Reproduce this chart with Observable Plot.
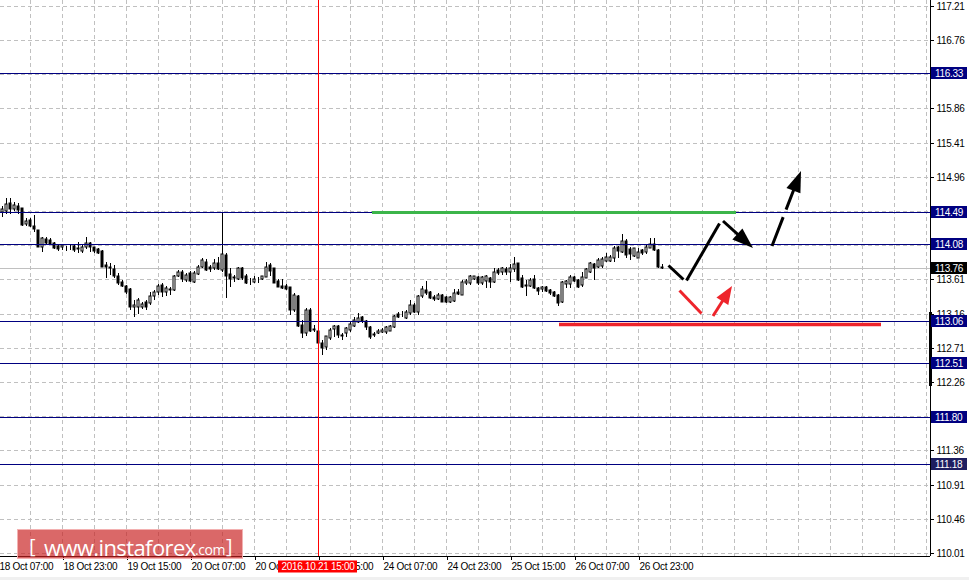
<!DOCTYPE html>
<html>
<head>
<meta charset="utf-8">
<script src="https://cdn.jsdelivr.net/npm/d3@7"></script>
<script src="https://cdn.jsdelivr.net/npm/@observablehq/plot@0.6"></script>
<style>
html, body { margin: 0; padding: 0; background: #f0f0f0; }
#wrap { position: relative; width: 969px; height: 580px; overflow: hidden; }
#chart svg { display: block; background: #fff; }
#chart svg text { letter-spacing: -0.3px; }
#logo { position: absolute; left: 17px; top: 529px; width: 226px; height: 30px;
  background: rgba(200, 32, 32, 0.68); border: 1px solid rgba(245, 185, 185, 0.9); box-sizing: border-box; }
#logo span { position: absolute; color: #fff; font-family: "Open Sans", sans-serif; white-space: pre; }
</style>
</head>
<body>
<div id="wrap">
  <div id="chart"></div>
  <div id="logo">
    <span style="left:11px;top:6px;font-size:20px;line-height:20px;">[</span>
    <span style="left:26px;top:6px;font-size:22px;line-height:22px;letter-spacing:-0.6px;">www.instaforex</span>
    <span style="left:177px;top:13px;font-size:14px;line-height:14px;letter-spacing:-0.4px;">.com</span>
    <span style="left:208px;top:6px;font-size:20px;line-height:20px;">]</span>
  </div>
</div>
<script>
// ---- USDJPY H1 candles, bar 0 = 18 Oct 08:00 ----
const open = [114.496,114.510,114.615,114.536,114.575,114.549,114.339,114.391,114.312,114.260,
114.036,114.141,114.128,114.089,114.049,114.036,114.036,114.036,114.049,114.023,
113.983,114.036,114.089,114.036,114.010,113.983,113.799,113.773,113.746,113.654,
113.575,113.523,113.483,113.246,113.246,113.246,113.312,113.299,113.391,113.444,
113.536,113.444,113.483,113.470,113.654,113.707,113.602,113.694,113.575,113.681,
113.773,113.839,113.773,113.760,113.825,113.733,113.931,113.681,113.641,113.615,
113.760,113.654,113.575,113.575,113.602,113.615,113.641,113.799,113.760,113.588,
113.523,113.523,113.510,113.207,113.391,113.010,112.904,113.207,112.957,112.931,
112.773,112.720,112.839,112.957,112.996,112.878,112.904,112.944,112.996,113.049,
113.115,113.062,112.983,112.891,112.904,112.917,112.917,112.930,112.983,113.154,
113.141,113.102,113.167,113.273,113.181,113.391,113.470,113.444,113.378,113.352,
113.404,113.378,113.312,113.326,113.444,113.404,113.562,113.562,113.615,113.641,
113.562,113.588,113.628,113.575,113.733,113.707,113.746,113.707,113.746,113.825,
113.628,113.536,113.523,113.615,113.496,113.483,113.510,113.470,113.444,113.404,
113.312,113.549,113.549,113.641,113.602,113.536,113.628,113.707,113.812,113.773,
113.786,113.852,113.852,113.891,114.036,113.970,114.115,114.010,113.918,113.891,
113.997,113.970,114.023,114.075,113.997,113.773];
const high = [114.575,114.681,114.681,114.628,114.615,114.549,114.418,114.418,114.457,114.260,
114.168,114.168,114.154,114.102,114.075,114.075,114.049,114.062,114.075,114.102,
114.062,114.168,114.102,114.036,114.023,113.997,113.839,113.825,113.799,113.694,
113.602,113.536,113.496,113.339,113.365,113.312,113.339,113.444,113.470,113.549,
113.562,113.523,113.510,113.667,113.733,113.733,113.694,113.720,113.720,113.799,
113.891,113.878,113.799,113.878,113.904,114.496,113.957,113.760,113.667,113.773,
113.773,113.681,113.628,113.654,113.641,113.654,113.839,113.825,113.760,113.615,
113.615,113.549,113.510,113.431,113.404,113.075,113.233,113.233,113.010,112.944,
112.812,112.865,112.970,113.010,113.010,112.904,112.983,113.049,113.115,113.167,
113.128,113.075,112.996,112.917,112.957,112.970,112.996,113.010,113.141,113.181,
113.194,113.207,113.339,113.299,113.404,113.523,113.588,113.457,113.404,113.431,
113.418,113.391,113.391,113.483,113.483,113.602,113.615,113.667,113.654,113.654,
113.654,113.667,113.641,113.760,113.760,113.773,113.773,113.812,113.904,113.825,
113.667,113.602,113.628,113.667,113.510,113.523,113.523,113.483,113.457,113.418,
113.588,113.602,113.667,113.654,113.615,113.707,113.760,113.839,113.825,113.891,
113.904,113.957,113.931,114.049,114.049,114.207,114.141,114.036,114.023,114.023,
114.010,114.062,114.154,114.154,114.010,113.812];
const low = [114.431,114.470,114.470,114.510,114.470,114.312,114.312,114.299,114.233,114.036,
113.970,114.062,114.062,114.010,113.983,113.997,113.983,113.997,113.970,113.957,
113.957,114.010,113.970,113.957,113.944,113.773,113.628,113.667,113.628,113.536,
113.510,113.418,113.207,113.115,113.154,113.220,113.207,113.273,113.339,113.404,
113.378,113.391,113.404,113.457,113.641,113.575,113.575,113.575,113.562,113.667,
113.760,113.720,113.707,113.733,113.733,113.707,113.365,113.510,113.575,113.602,
113.602,113.549,113.536,113.562,113.562,113.602,113.641,113.654,113.562,113.510,
113.483,113.470,113.141,113.181,112.983,112.839,112.865,112.917,112.917,112.746,
112.615,112.681,112.812,112.852,112.839,112.812,112.852,112.917,112.983,113.036,
113.036,112.944,112.825,112.852,112.891,112.904,112.891,112.944,112.970,113.102,
113.115,113.089,113.141,113.167,113.141,113.365,113.404,113.352,113.326,113.339,
113.312,113.299,113.299,113.312,113.404,113.404,113.536,113.536,113.602,113.536,
113.536,113.496,113.496,113.562,113.667,113.667,113.667,113.575,113.707,113.588,
113.496,113.391,113.510,113.483,113.404,113.444,113.444,113.404,113.378,113.260,
113.299,113.496,113.496,113.575,113.496,113.510,113.628,113.694,113.602,113.760,
113.760,113.839,113.839,113.839,113.891,113.957,113.891,113.865,113.904,113.891,
113.931,113.944,114.023,113.983,113.760,113.746];
const close = [114.536,114.602,114.536,114.589,114.523,114.326,114.378,114.312,114.273,114.036,
114.154,114.089,114.075,114.023,114.010,114.062,114.030,114.030,113.997,114.010,
114.036,114.089,114.036,113.983,113.957,113.773,113.773,113.760,113.654,113.562,
113.523,113.444,113.246,113.273,113.339,113.286,113.246,113.391,113.444,113.523,
113.444,113.496,113.476,113.654,113.707,113.615,113.667,113.588,113.694,113.773,
113.865,113.733,113.746,113.825,113.746,113.944,113.654,113.615,113.634,113.760,
113.628,113.562,113.569,113.615,113.596,113.654,113.773,113.720,113.562,113.510,
113.496,113.483,113.207,113.404,112.996,112.904,113.207,112.931,112.950,112.773,
112.707,112.865,112.944,112.996,112.878,112.871,112.970,113.023,113.075,113.102,
113.062,112.983,112.852,112.884,112.931,112.944,112.983,112.990,113.128,113.115,
113.135,113.181,113.273,113.181,113.391,113.483,113.431,113.365,113.352,113.404,
113.312,113.312,113.378,113.431,113.418,113.575,113.588,113.654,113.654,113.562,
113.641,113.654,113.575,113.707,113.694,113.760,113.707,113.760,113.812,113.602,
113.510,113.529,113.602,113.496,113.457,113.510,113.457,113.431,113.391,113.299,
113.575,113.588,113.641,113.588,113.510,113.641,113.746,113.825,113.760,113.865,
113.878,113.904,113.904,114.023,113.983,114.115,113.931,113.944,114.023,113.970,
113.957,114.036,114.075,113.997,113.773,113.760];

// ---- axes ----
const priceTicks = [117.21,116.76,116.31,115.86,115.41,114.96,114.51,114.06,113.61,113.16,112.71,112.26,111.81,111.36,110.91,110.46,110.01];
const hiddenPriceTicks = [116.31, 114.51, 114.06, 111.81]; // fully covered by level boxes
const timeTickBars = [-1,15,31,47,63,79,95,111,127,143,159];
const timeTickLabels = ["18 Oct 07:00","18 Oct 23:00","19 Oct 15:00","20 Oct 07:00","20 Oct 23:00","21 Oct 15:00","24 Oct 07:00","24 Oct 23:00","25 Oct 15:00","26 Oct 07:00","26 Oct 23:00"];
const gridBars = [7,15,23,31,39,47,55,63,71,79,87,95,103,111,119,127,135,143,151,159,167,175,183,191,199,207,215,223,231];

// ---- horizontal levels ----
const levels = [116.33, 114.49, 114.08, 113.06, 112.51, 111.80, 111.18];
const bidPrice = 113.76;
const markerBar = 79;
const markerLabel = "2016.10.21 15:00";
const rangeBar = {x: 232, y1: 113.18, y2: 112.21};

// ---- analyst annotations (bar index, price) ----
const greenLine = [{x1: 92.5, x2: 183.5, y: 114.49}];
const redLine = [{x1: 139.25, x2: 219.75, y: 113.02}];
const blackSegments = [
  {x1: 166.5, y1: 113.80, x2: 170.25, y2: 113.615},
  {x1: 171.0, y1: 113.602, x2: 179.25, y2: 114.352}
];
const blackArrows = [{x1: 180.25, y1: 114.378, x2: 187.75, y2: 114.023}];
const blackDashedArrows = [{x1: 192.5, y1: 114.049, x2: 199.75, y2: 115.036}];
const redSegments = [{x1: 169.25, y1: 113.470, x2: 174.75, y2: 113.167}];
const redArrows = [{x1: 177.75, y1: 113.128, x2: 182.5, y2: 113.523}];

const candles = open.map((o, i) => ({k: i, o, h: high[i], l: low[i], c: close[i]}));
const labelOf = new Map(timeTickBars.map((b, i) => [b, timeTickLabels[i]]));

function arrowMark(arr, color, sw, headLen, headW, dash) {
  return (index, scales) => {
    const g = d3.create("svg:g");
    for (const a of arr) {
      const x1 = scales.x(a.x1), y1 = scales.y(a.y1), x2 = scales.x(a.x2), y2 = scales.y(a.y2);
      const dx = x2 - x1, dy = y2 - y1, len = Math.hypot(dx, dy), ux = dx / len, uy = dy / len;
      const bx = x2 - ux * headLen, by = y2 - uy * headLen;
      g.append("line").attr("x1", x1).attr("y1", y1).attr("x2", bx + ux * 2).attr("y2", by + uy * 2)
        .attr("stroke", color).attr("stroke-width", sw).attr("stroke-dasharray", dash || null);
      g.append("path")
        .attr("d", `M${x2},${y2}L${bx - uy * headW / 2},${by + ux * headW / 2}L${bx + uy * headW / 2},${by - ux * headW / 2}Z`)
        .attr("fill", color);
    }
    return g.node();
  };
}

function priceBoxes(index, scales, values, dims) {
  const g = d3.create("svg:g").attr("font-family", "Liberation Sans, Arial, sans-serif").attr("font-size", 10)
    .attr("text-anchor", "start");
  const x0 = dims.width - dims.marginRight + 1;
  const items = levels.map(v => ({v, fill: v === 111.18 ? "#1e1e60" : "#000080"}))
    .concat([{v: bidPrice, fill: "#000"}]);
  for (const it of items) {
    const cy = Math.round(scales.y(it.v));
    g.append("rect").attr("x", x0).attr("y", cy - 6).attr("width", 36).attr("height", 12).attr("fill", it.fill);
    g.append("text").attr("x", x0 + 4).attr("y", cy).attr("dy", "0.35em").attr("text-anchor", "start")
      .attr("fill", "#fff").text(it.v.toFixed(2));
  }
  return g.node();
}

function timeBox(index, scales, values, dims) {
  const g = d3.create("svg:g").attr("font-family", "Liberation Sans, Arial, sans-serif").attr("font-size", 10);
  const cx = scales.x(markerBar);
  const top = dims.height - dims.marginBottom + 4;
  g.append("rect").attr("x", cx - 40).attr("y", top + 0.5).attr("width", 79).attr("height", 12).attr("fill", "#ff0000");
  g.append("text").attr("x", cx).attr("y", top + 6.5).attr("dy", "0.35em").attr("text-anchor", "middle")
    .attr("fill", "#fff").text(markerLabel);
  return g.node();
}

const chart = Plot.plot({
  width: 969,
  height: 577,
  marginLeft: 0,
  marginRight: 39,
  marginTop: 0,
  marginBottom: 21,
  style: {fontFamily: "Liberation Sans, Arial, sans-serif", fontSize: "10px", color: "#000", background: "#fff"},
  x: {type: "linear", domain: [-0.5, 232], axis: null, round: true},
  y: {domain: [109.970, 117.286], axis: null, round: true},
  marks: [
    Plot.gridY(priceTicks, {stroke: "#c0c0c0", strokeOpacity: 1, strokeDasharray: "4,3"}),
    Plot.gridX(gridBars, {stroke: "#c0c0c0", strokeOpacity: 1, strokeDasharray: "4,3"}),
    Plot.ruleY([bidPrice], {stroke: "#c0c0c0"}),
    Plot.ruleX(candles, {x: "k", y1: "l", y2: "h", stroke: "#000"}),
    Plot.rect(candles, {filter: d => d.c >= d.o, x1: d => d.k - 0.25, x2: d => d.k + 0.25, y1: "o", y2: "c", fill: "#fff", stroke: "#000"}),
    Plot.rect(candles, {filter: d => d.c < d.o, x1: d => d.k - 0.25, x2: d => d.k + 0.25, y1: "o", y2: "c", fill: "#000", stroke: "#000"}),
    Plot.ruleY(levels, {stroke: "#000080"}),
    Plot.ruleX([markerBar], {stroke: "#ff0000"}),
    Plot.ruleX([232], {stroke: "#000"}),
    Plot.ruleY([109.970], {stroke: "#000"}),
    Plot.ruleX([rangeBar], {x: "x", y1: "y1", y2: "y2", stroke: "#000", strokeWidth: 3}),
    Plot.axisY(priceTicks, {anchor: "right", tickSize: 3, tickPadding: 3, text: null, stroke: "#000"}),
    Plot.axisY(priceTicks.filter(v => !hiddenPriceTicks.includes(v)), {anchor: "right", tickSize: 0, tickPadding: 6, tickFormat: d => d.toFixed(2), fill: "#000"}),
    Plot.axisX(timeTickBars, {anchor: "bottom", tickSize: 4, tickPadding: 2, textAnchor: "start", dx: 1, tickFormat: d => labelOf.get(d), stroke: "#000", fill: "#000"}),
    Plot.ruleY(greenLine, {y: "y", x1: "x1", x2: "x2", stroke: "#3cb54a", strokeWidth: 3}),
    Plot.ruleY(redLine, {y: "y", x1: "x1", x2: "x2", stroke: "#ee242b", strokeWidth: 3.5}),
    Plot.link(blackSegments, {x1: "x1", y1: "y1", x2: "x2", y2: "y2", stroke: "#000", strokeWidth: 3}),
    Plot.link(redSegments, {x1: "x1", y1: "y1", x2: "x2", y2: "y2", stroke: "#ee242b", strokeWidth: 3}),
    arrowMark(blackArrows, "#000", 3, 21, 15, null),
    arrowMark(blackDashedArrows, "#000", 3, 21, 15, "31,8"),
    arrowMark(redArrows, "#ee242b", 3, 18, 14, null),
    priceBoxes,
    timeBox
  ]
});
document.getElementById("chart").appendChild(chart);
</script>
</body>
</html>
